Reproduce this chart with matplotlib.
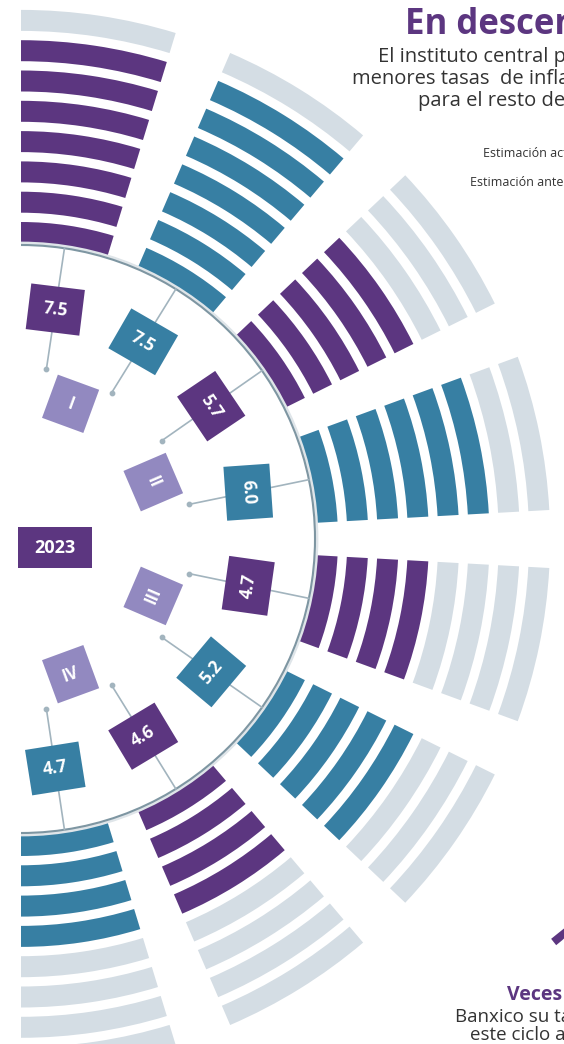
import numpy as np
import matplotlib
matplotlib.use("Agg")
import matplotlib.pyplot as plt
from matplotlib.patches import Wedge, Rectangle, Arc

plt.rcParams['font.family'] = ['Open Sans', 'DejaVu Sans']

# data: inflation forecast per quarter (Banxico)
quarters = ["I", "II", "III", "IV"]
actual = [7.5, 5.7, 4.7, 4.6]      # estimación actual
previous = [7.5, 6.0, 5.2, 4.7]    # estimación anterior
year = "2023"
n_rings = 8

# text rotation of each value box (deg)
value_rot = [-7, -30, -56, -86, 82, 50, 31, 9]

PURPLE = "#5c3680"
TEAL = "#377fa3"
GRAY = "#d4dde4"
LILAC = "#9289c0"
LINE = "#a2b4be"
CIRCLE = "#7e96a2"
DARK = "#333333"

W, H = 564, 1044
fig = plt.figure(figsize=(W / 100, H / 100), dpi=100)
ax = fig.add_axes([0, 0, 1, 1])
ax.set_xlim(0, W)
ax.set_ylim(0, H)
ax.axis("off")


def Y(y):
    # image row -> data y
    return H - y


# geometry of the half wheel
cx, cy = 21, Y(539)
r0, pitch, rw = 296, 30.3, 21
sec_w = 17.0
gap = (180 - 8 * sec_w) / 7

sectors = []
for q in range(len(quarters)):
    sectors.append((actual[q], PURPLE))
    sectors.append((previous[q], TEAL))

mids = []
for k, (v, col) in enumerate(sectors):
    t2 = 90 - k * (sec_w + gap)
    t1 = t2 - sec_w
    mid = (t1 + t2) / 2
    mids.append(mid)
    for i in range(n_rings):
        c = col if i < int(v) else GRAY
        ax.add_patch(Wedge((cx, cy), r0 + i * pitch + rw, t1, t2, width=rw,
                           facecolor=c, edgecolor="none", zorder=1))

    # connector line + dot
    a = np.radians(mid)
    ax.plot([cx + 172 * np.cos(a), cx + 294 * np.cos(a)],
            [cy + 172 * np.sin(a), cy + 294 * np.sin(a)],
            color=LINE, lw=1.2, zorder=3)
    ax.scatter([cx + 172 * np.cos(a)], [cy + 172 * np.sin(a)], s=10, color=LINE, zorder=3)

    # value box
    bx, by = cx + 232 * np.cos(a), cy + 232 * np.sin(a)
    rot = value_rot[k]
    ax.add_patch(Rectangle((bx - 27, by - 23), 54, 46, angle=rot, rotation_point="center",
                           facecolor=col, edgecolor="none", zorder=4))
    ax.text(bx, by, "{:.1f}".format(v), rotation=rot, rotation_mode="anchor",
            ha="center", va="center", color="white", fontsize=12.5, fontweight="bold", zorder=5)

# inner circle with a soft shadow
ax.add_patch(Arc((cx, cy), 2 * 296, 2 * 296, theta1=-90, theta2=90, color="#dfe5e9", lw=2, zorder=2))
ax.add_patch(Arc((cx, cy), 2 * 294, 2 * 294, theta1=-90, theta2=90, color=CIRCLE, lw=1.5, zorder=2))

# quarter labels
for q, name in enumerate(quarters):
    mid = (mids[2 * q] + mids[2 * q + 1]) / 2
    a = np.radians(mid)
    qx, qy = cx + 144 * np.cos(a), cy + 144 * np.sin(a)
    rot = mid - 90 if mid > 0 else mid + 90
    ax.add_patch(Rectangle((qx - 22, qy - 23), 44, 46, angle=rot, rotation_point="center",
                           facecolor=LILAC, edgecolor="none", zorder=4))
    ax.text(qx, qy, name, rotation=rot, rotation_mode="anchor", ha="center", va="center",
            color="white", fontsize=12, fontweight="bold", zorder=5)

# year box
ax.add_patch(Rectangle((18, Y(568)), 74, 41, facecolor=PURPLE, edgecolor="none", zorder=4))
ax.text(55, Y(548), year, ha="center", va="center", color="white", fontsize=13,
        fontweight="bold", zorder=5)

# title and texts (cut by the right border as in the page)
ax.text(405, Y(34), "En descenso", color=PURPLE, fontsize=25, fontweight="bold", va="baseline")
ax.text(378, Y(62), "El instituto central prevé", color=DARK, fontsize=14.5, va="baseline")
ax.text(352, Y(84), "menores tasas  de inflación", color=DARK, fontsize=14.5, va="baseline")
ax.text(418, Y(106), "para el resto del año", color=DARK, fontsize=14.5, va="baseline")

ax.text(483, Y(157), "Estimación actual", color=DARK, fontsize=9, va="baseline")
ax.text(470, Y(186), "Estimación anterior", color=DARK, fontsize=9, va="baseline")

ax.text(547, Y(975), "15", color=PURPLE, fontsize=50, fontweight="bold", va="baseline")
ax.text(507, Y(1000), "Veces", color=PURPLE, fontsize=14, fontweight="bold", va="baseline")
ax.text(455, Y(1022), "Banxico su tasa", color=DARK, fontsize=13.5, va="baseline")
ax.text(470, Y(1040), "este ciclo alcista", color=DARK, fontsize=13.5, va="baseline")

fig.savefig("out.png", dpi=100)
